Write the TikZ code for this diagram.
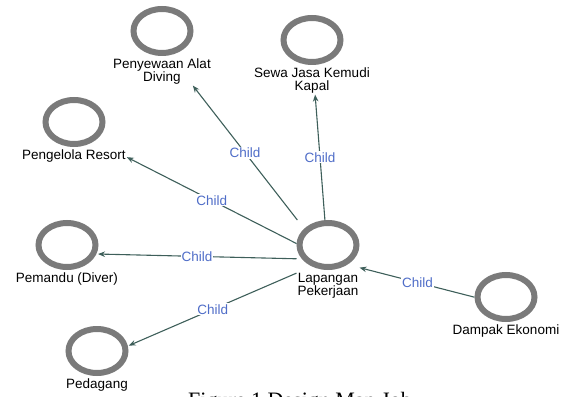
\documentclass[tikz,border=0pt]{standalone}
\usepackage{fontspec}
\setmainfont{Liberation Sans}
\newfontfamily\captfont{Liberation Serif}
\usetikzlibrary{positioning,fit,arrows.meta,shapes.geometric}
\definecolor{ringgray}{HTML}{7A7A7A}
\definecolor{edgegreen}{HTML}{3E5F5A}
\definecolor{childblue}{HTML}{4F6DC8}

\begin{document}
\begin{tikzpicture}
[every node/.style={inner sep=0pt,outer sep=0pt},
 ring/.style={ellipse,draw=ringgray,line width=6pt,outer sep=3pt,minimum width=57pt,minimum height=44pt},
 lbl/.style={font=\fontsize{13.5}{13}\selectfont,align=center,inner sep=1pt},
 box/.style={inner sep=0pt},
 arr/.style={draw=edgegreen,line width=1.1pt,-{Stealth[length=7pt,width=5.5pt]}},
 child/.style={fill=white,text=childblue,font=\fontsize{13.5}{13}\selectfont,inner sep=1pt},
 capt/.style={font=\captfont\fontsize{22}{24}\selectfont}]
\useasboundingbox (-328pt,-151pt) rectangle (233pt,245pt);

\node[ring] (lapR) {};
\node[ring] (penyR) [on grid,above left=214pt and 166pt of lapR] {};
\node[ring] (sewaR) [on grid,above left=205pt and 16pt of lapR]  {};
\node[ring] (pengR) [on grid,above left=123pt and 254pt of lapR] {};
\node[ring] (pemR)  [on grid,left=261pt of lapR]                 {};
\node[ring] (pdgR)  [on grid,below left=106pt and 231pt of lapR] {};
\node[ring] (dampR) [on grid,below right=52pt and 178pt of lapR] {};

\node[lbl] (lapT)  [below=2pt of lapR]  {Lapangan\\Pekerjaan};
\node[lbl] (penyT) [below=2pt of penyR] {Penyewaan Alat\\Diving};
\node[lbl] (sewaT) [below=2pt of sewaR] {Sewa Jasa Kemudi\\Kapal};
\node[lbl] (pengT) [below=2pt of pengR] {Pengelola Resort};
\node[lbl] (pemT)  [below=2pt of pemR]  {Pemandu (Diver)};
\node[lbl] (pdgT)  [below=2pt of pdgR]  {Pedagang};
\node[lbl] (dampT) [below=2pt of dampR] {Dampak Ekonomi};

% each box holds a ring and its label
\node[box,fit=(lapR)(lapT)]   (lap)  {};
\node[box,fit=(penyR)(penyT)] (peny) {};
\node[box,fit=(sewaR)(sewaT)] (sewa) {};
\node[box,fit=(pengR)(pengT)] (peng) {};
\node[box,fit=(pemR)(pemT)]   (pem)  {};
\node[box,fit=(pdgR)(pdgT)]   (pdg)  {};
\node[box,fit=(dampR)(dampT)] (damp) {};

\draw[arr] (lap) -- node[child] (cPeny) {Child} (peny);
\draw[arr] (lap) -- node[child] (cSewa) {Child} (sewa);
\draw[arr] (lap) -- node[child] (cPeng) {Child} (peng);
\draw[arr,shorten >=-21pt] (lap) -- node[child,pos=.56] (cPem) {Child} (pem);
\draw[arr] (lap) -- node[child] (cPdg) {Child} (pdg);
\draw[arr,shorten <=-23.5pt] (damp) -- node[child,pos=.37] (cDamp) {Child} (lap);

\node[capt,anchor=base] (capt) at (-28pt,-162pt) {Figure 1 Design Map Job};
\end{tikzpicture}
\end{document}
